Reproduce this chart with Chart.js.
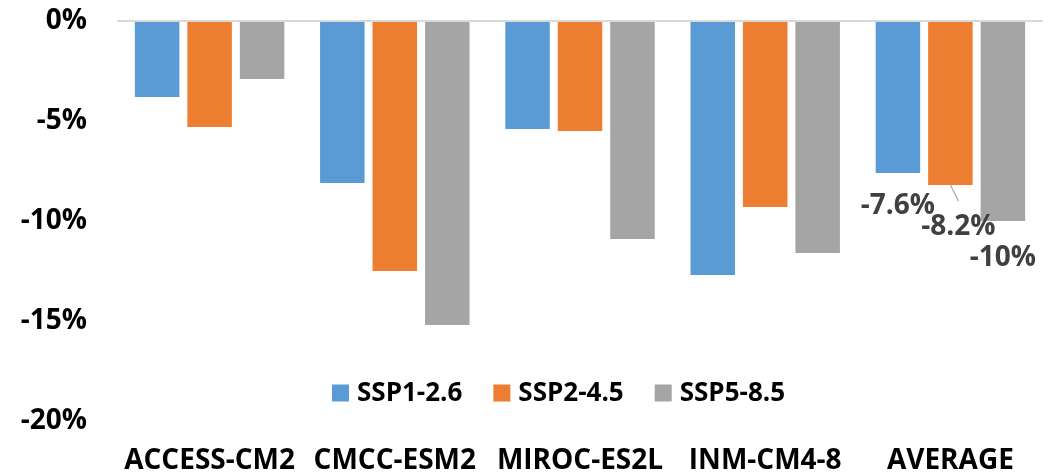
<!DOCTYPE html>
<html>
<head>
<meta charset="utf-8">
<title>Change by model and scenario</title>
<script src="https://cdn.jsdelivr.net/npm/chart.js@4/dist/chart.umd.min.js"></script>
<style>
  html, body { margin: 0; padding: 0; background: #ffffff; }
  #wrap { position: relative; width: 1061px; height: 474px; }
</style>
</head>
<body>
<div id="wrap"><canvas id="chart"></canvas></div>
<script>
// Models along the x axis
const categories = ['ACCESS-CM2', 'CMCC-ESM2', 'MIROC-ES2L', 'INM-CM4-8', 'AVERAGE'];

// Scenario names
const scenarios = ['SSP1-2.6', 'SSP2-4.5', 'SSP5-8.5'];

// Percent change per model, one array per scenario
const ssp126 = [-3.8, -8.1, -5.4, -12.7, -7.6];
const ssp245 = [-5.3, -12.5, -5.5, -9.3, -8.2];
const ssp585 = [-2.9, -15.2, -10.9, -11.6, -10];

// Y axis range and tick step (percent)
const yMin = -20;
const yMax = 0;
const yStep = 5;

const colors = ['#5B9BD5', '#ED7D31', '#A5A5A5'];
const FONT = '"Open Sans", "Noto Sans", "DejaVu Sans", sans-serif';

const seriesValues = [ssp126, ssp245, ssp585];

// Value labels on the AVERAGE group, placed just below each bar end
const averageLabels = {
  id: 'averageLabels',
  afterDatasetsDraw(chart) {
    const ctx = chart.ctx;
    const last = categories.length - 1;
    // per-series label shift (dx, dy from bar end to label centre) and leader flag
    const place = [
      { dx: 0, dy: 33, leader: false },
      { dx: 8, dy: 42, leader: true },
      { dx: 0, dy: 37, leader: false }
    ];
    ctx.save();
    ctx.font = 'bold 28px ' + FONT;
    ctx.fillStyle = '#404040';
    ctx.textAlign = 'center';
    ctx.textBaseline = 'middle';
    chart.data.datasets.forEach((ds, i) => {
      const bar = chart.getDatasetMeta(i).data[last];
      const p = place[i];
      const v = ds.data[last];
      if (p.leader) {
        ctx.strokeStyle = '#A6A6A6';
        ctx.lineWidth = 1.2;
        ctx.beginPath();
        ctx.moveTo(bar.x, bar.y);
        ctx.lineTo(bar.x + 8, bar.y + 16);
        ctx.stroke();
      }
      ctx.fillText(String(v) + '%', bar.x + p.dx, bar.y + p.dy);
    });
    ctx.restore();
  }
};

// Legend drawn inside the plot area, near its lower edge
const innerLegend = {
  id: 'innerLegend',
  afterDatasetsDraw(chart) {
    const ctx = chart.ctx;
    const area = chart.chartArea;
    const box = 17, gap = 8, itemGap = 31;
    let x = area.left + 215;
    const cy = area.top + 372;
    ctx.save();
    ctx.font = 'bold 26px ' + FONT;
    ctx.textBaseline = 'middle';
    ctx.textAlign = 'left';
    chart.data.datasets.forEach((ds) => {
      ctx.fillStyle = ds.backgroundColor;
      ctx.fillRect(x, cy - box / 2, box, box);
      x += box + gap;
      ctx.fillStyle = '#000000';
      ctx.fillText(ds.label, x, cy + 1);
      x += ctx.measureText(ds.label).width + itemGap;
    });
    ctx.restore();
  }
};

new Chart(document.getElementById('chart'), {
  type: 'bar',
  data: {
    labels: categories,
    datasets: scenarios.map((name, i) => ({
      label: name,
      data: seriesValues[i],
      backgroundColor: colors[i],
      borderWidth: 0,
      categoryPercentage: 0.85,
      barPercentage: 0.848
    }))
  },
  options: {
    responsive: true,
    maintainAspectRatio: false,
    animation: false,
    layout: { padding: { top: 21, right: 18, bottom: 0, left: 0 } },
    plugins: {
      legend: { display: false },
      tooltip: { enabled: false }
    },
    scales: {
      x: {
        afterFit(scale) {
          scale.height = 53;
          scale.paddingLeft = 0;
          scale.paddingRight = 0;
        },
        grid: { display: false, drawTicks: false },
        border: { display: false },
        ticks: {
          color: '#000000',
          padding: 26,
          maxRotation: 0,
          autoSkip: false,
          font: { family: FONT, size: 28, weight: 'bold', lineHeight: 1.0 }
        }
      },
      y: {
        min: yMin,
        max: yMax,
        afterFit(scale) {
          scale.width = 117;
          scale.paddingTop = 0;
          scale.paddingBottom = 0;
        },
        border: { display: false },
        grid: {
          drawTicks: false,
          lineWidth: 2,
          color: (c) => (c.tick && c.tick.value === 0 ? '#D9D9D9' : 'rgba(0,0,0,0)')
        },
        ticks: {
          stepSize: yStep,
          padding: 30,
          color: '#000000',
          font: { family: FONT, size: 28, weight: 'bold' },
          callback: (v) => v + '%'
        }
      }
    }
  },
  plugins: [averageLabels, innerLegend]
});
</script>
</body>
</html>
